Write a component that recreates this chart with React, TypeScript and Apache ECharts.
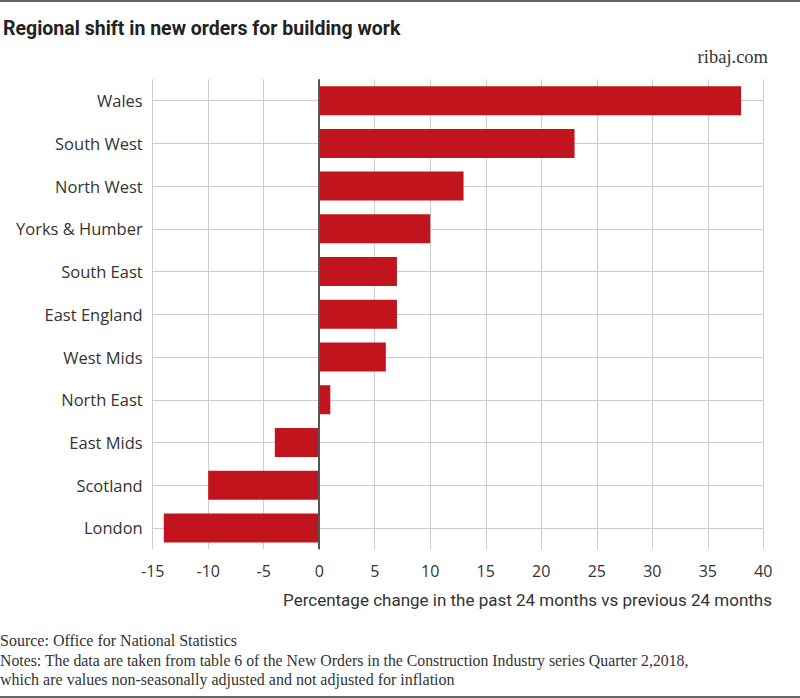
import React, { useEffect, useRef } from "react";
import * as echarts from "echarts";

const categories = [
  "Wales",
  "South West",
  "North West",
  "Yorks & Humber",
  "South East",
  "East England",
  "West Mids",
  "North East",
  "East Mids",
  "Scotland",
  "London",
];
const values = [38, 23, 13, 10, 7, 7, 6, 1, -4, -10, -14];

const title = "Regional shift in new orders for building work";
const siteLabel = "ribaj.com";
const axisTitle = "Percentage change in the past 24 months vs previous 24 months";
const notes = [
  "Source: Office for National Statistics",
  "Notes: The data are taken from table 6 of the New Orders in the Construction Industry series Quarter 2,2018,",
  "which are values non-seasonally adjusted and not adjusted for inflation",
];

export default function App() {
  const ref = useRef<HTMLDivElement>(null);
  useEffect(() => {
    if (!ref.current) return;
    const chart = echarts.init(ref.current, null, { renderer: "svg" });
    const sans = "Roboto, 'Open Sans', sans-serif";
    const wide = "'Open Sans', Roboto, sans-serif";
    const serif = "'Liberation Serif', 'DejaVu Serif', serif";
    chart.setOption({
      animation: false,
      backgroundColor: "#ffffff",
      grid: { left: 152.7, right: 36.7, top: 79.3, bottom: 148.7, containLabel: false },
      xAxis: {
        type: "value",
        min: -15,
        max: 40,
        interval: 5,
        axisLine: { show: false },
        axisTick: { show: false },
        splitLine: { show: true, lineStyle: { color: "#cccccc", width: 1 } },
        axisLabel: { color: "#333333", fontSize: 16, margin: 14, fontFamily: wide },
      },
      yAxis: {
        type: "category",
        inverse: true,
        data: categories,
        axisLine: { show: false },
        axisTick: { show: false },
        splitLine: { show: true, alignWithLabel: true, lineStyle: { color: "#cccccc", width: 1 } },
        axisLabel: { color: "#333333", fontSize: 16.5, margin: 10, fontFamily: wide },
      },
      series: [
        {
          type: "bar",
          data: values,
          barWidth: 29,
          itemStyle: { color: "#c2141d" },
          markLine: {
            silent: true,
            symbol: "none",
            label: { show: false },
            lineStyle: { color: "#555555", width: 2, type: "solid" },
            data: [{ xAxis: 0 }],
          },
        },
      ],
      graphic: [
        { type: "rect", left: 0, top: 0, shape: { width: 800, height: 2 }, style: { fill: "#666666" } },
        { type: "rect", left: 0, top: 696, shape: { width: 800, height: 2 }, style: { fill: "#666666" } },
        {
          type: "text",
          left: 3,
          top: 18,
          style: { text: title, fill: "#222222", font: `bold 19.5px ${sans}` },
        },
        {
          type: "text",
          right: 32,
          top: 47,
          style: { text: siteLabel, fill: "#333333", font: `18.5px ${serif}` },
        },
        {
          type: "text",
          right: 28,
          top: 591,
          style: { text: axisTitle, fill: "#333333", font: `17px ${sans}` },
        },
        {
          type: "text",
          left: 0,
          top: 632,
          style: { text: notes[0], fill: "#333333", font: `16px ${serif}` },
        },
        {
          type: "text",
          left: 0,
          top: 652,
          style: { text: notes[1], fill: "#333333", font: `15.8px ${serif}` },
        },
        {
          type: "text",
          left: 0,
          top: 671,
          style: { text: notes[2], fill: "#333333", font: `16px ${serif}` },
        },
      ],
    });
    return () => chart.dispose();
  }, []);
  return (
    <div
      ref={ref}
      style={{ position: "fixed", left: 0, top: 0, width: 800, height: 698 }}
    />
  );
}
